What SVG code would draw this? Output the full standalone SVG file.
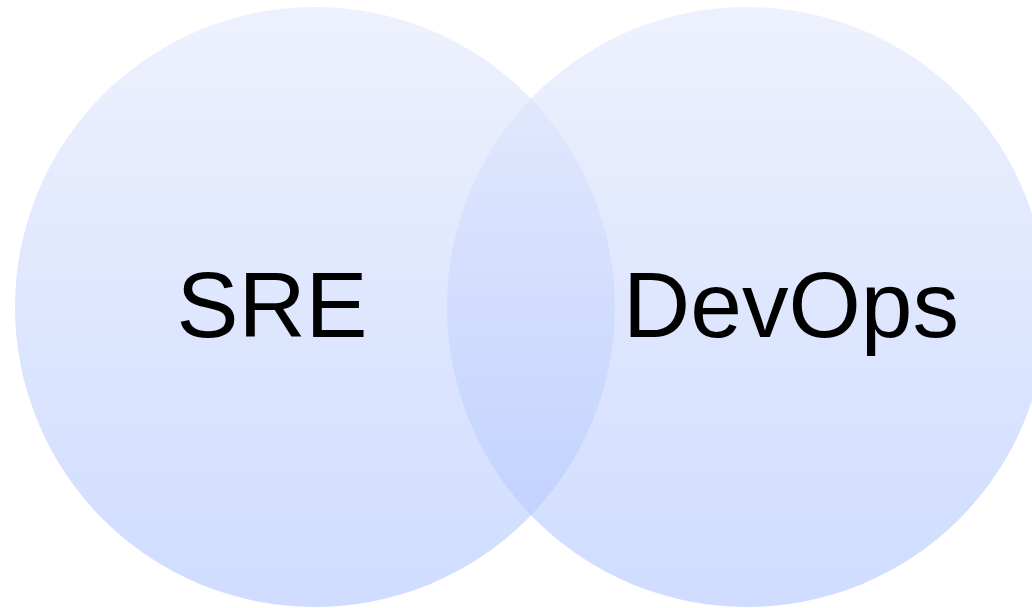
<svg xmlns="http://www.w3.org/2000/svg" width="1032" height="608" viewBox="0 0 1032 608">
<defs>
<linearGradient id="g" x1="0" y1="0" x2="0" y2="1">
<stop offset="0" stop-color="#e3e8fc"/>
<stop offset="1" stop-color="#afc5ff"/>
</linearGradient>
<style>
.c{fill:url(#g);fill-opacity:0.6;}
.t{font-family:"Liberation Sans",Arial,sans-serif;font-size:93px;fill:#000;text-anchor:middle;}
</style>
</defs>
<rect width="1032" height="608" fill="#fff"/>
<g id="sre">
<circle class="c" cx="315" cy="307" r="300"/>
<text class="t" x="272" y="337">SRE</text>
</g>
<g id="devops">
<circle class="c" cx="747" cy="307" r="300"/>
<text class="t" x="791" y="337">DevOps</text>
</g>
<g id="connectors"/>
</svg>
